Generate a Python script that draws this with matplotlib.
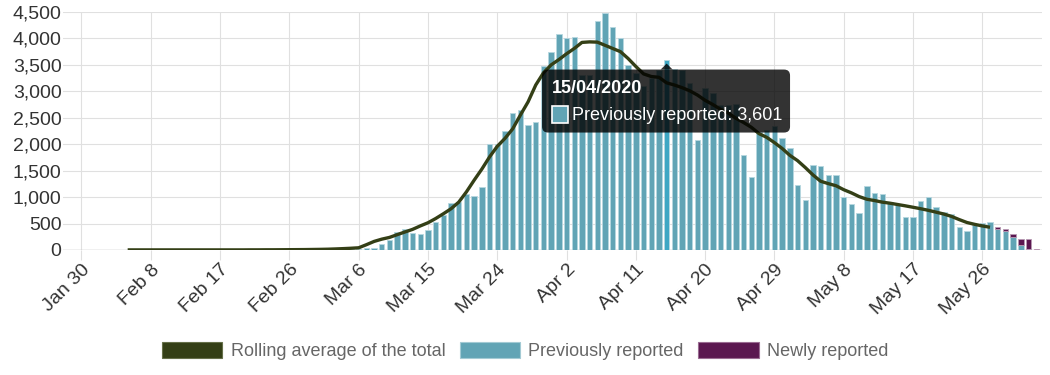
import numpy as np
import pandas as pd
import matplotlib
matplotlib.use("Agg")
import matplotlib.pyplot as plt
import matplotlib.dates as mdates
import matplotlib.transforms as mtransforms
from matplotlib.patches import Patch, FancyBboxPatch, Polygon, Rectangle

plt.rcParams["font.family"] = ["Liberation Sans", "DejaVu Sans"]

# daily deaths by date of death
bar_dates = pd.date_range("2020-03-01", "2020-06-02")
previously_reported = [
    # March
    3, 5, 8, 12, 18, 22, 35, 38, 107, 190, 335, 398, 328, 297, 379, 531,
    663, 890, 905, 1055, 1023, 1195, 2009, 2005, 2255, 2590, 2653, 2363,
    2426, 3487, 3752,
    # April
    4087, 4011, 4036, 3316, 3300, 4327, 4472, 4220, 4005, 3493, 3350, 3100,
    3250, 3411, 3601, 3430, 3411, 3150, 2071, 3064, 2970, 2748, 2748, 2767,
    1800, 1389, 2230, 2274, 2337, 2116,
    # May
    1935, 1230, 948, 1605, 1582, 1421, 1427, 1010, 872, 707, 1213, 1080,
    1061, 900, 875, 619, 619, 929, 1010, 808, 726, 682, 442, 366, 474, 518,
    524, 404, 360, 240, 95,
    # June
    10, 0,
]
newly_reported = [0] * 88 + [26, 32, 57, 113, 192, 19]

avg_dates = pd.date_range("2020-02-05", "2020-05-27")
rolling_average = [
    # February
    2, 2, 2, 2, 2, 2, 2, 2, 2, 2, 2, 2, 2, 2, 2, 2, 3, 3, 4, 4, 5, 6, 7, 8, 10,
    # March
    12, 15, 20, 26, 33, 42, 100, 162, 205, 238, 290, 340, 390, 455, 515, 595,
    685, 780, 905, 1100, 1320, 1530, 1760, 1960, 2110, 2290, 2550, 2800,
    3120, 3350, 3500,
    # April
    3600, 3710, 3810, 3925, 3935, 3930, 3870, 3810, 3750, 3620, 3470, 3330,
    3280, 3265, 3160, 3120, 3070, 3010, 2930, 2830, 2750, 2660, 2590, 2490,
    2410, 2320, 2200, 2130, 2030, 1920,
    # May
    1790, 1690, 1560, 1420, 1300, 1255, 1215, 1140, 1080, 1010, 960, 935,
    905, 885, 860, 835, 808, 780, 750, 715, 680, 635, 575, 520, 485, 455, 430,
]

tick_dates = pd.date_range("2020-01-30", periods=14, freq="9D")
y_ticks = list(range(0, 4501, 500))
hover_date = pd.Timestamp("2020-04-15")

TEAL = "#61a4b5"
TEAL_HOVER = "#3ea7c4"
PURPLE = "#5b1750"
OLIVE = "#343f16"
GRID = "#e0e0e0"

W, H = 1050, 375
fig = plt.figure(figsize=(W / 100, H / 100), dpi=100)
ax = fig.add_axes([63 / W, 125 / H, (1042 - 63) / W, (250 - 12) / H])

x_bars = mdates.date2num(bar_dates)
prev = np.array(previously_reported)
new = np.array(newly_reported)

has_prev = prev > 0
bar_colors = np.array([TEAL_HOVER if d == hover_date else TEAL for d in bar_dates])
ax.bar(x_bars[has_prev], prev[has_prev], width=0.7, color=bar_colors[has_prev],
       edgecolor="#b7d7e0", linewidth=0.6, zorder=2)
has_new = new > 0
ax.bar(x_bars[has_new], new[has_new], bottom=prev[has_new], width=0.7,
       color=PURPLE, edgecolor="#b99ab4", linewidth=0.6, zorder=2)

ax.plot(mdates.date2num(avg_dates), rolling_average, color=OLIVE, lw=2.4,
        solid_joinstyle="round", solid_capstyle="butt", zorder=3)

start = mdates.date2num(pd.Timestamp("2020-01-30"))
ax.set_xlim(start - 2.4, start + 124.75)
ax.set_ylim(0, 4500)

ax.set_yticks(y_ticks)
ax.set_yticklabels([f"{v:,}" for v in y_ticks])
ax.set_xticks(mdates.date2num(tick_dates))
ax.set_xticklabels([f"{d:%b} {d.day}" for d in tick_dates], rotation=45,
                   ha="right", rotation_mode="anchor")

ax.tick_params(axis="y", length=0, pad=1, labelsize=14, labelcolor="#333333")
ax.tick_params(axis="x", length=7, width=0.8, color=GRID, pad=1,
               labelsize=14, labelcolor="#333333")
ax.grid(color=GRID, linewidth=0.8)
ax.set_axisbelow(True)
ax.axhline(0, color="#bdbdbd", linewidth=1, zorder=1.5)
for spine in ax.spines.values():
    spine.set_visible(False)

handles = [
    Patch(facecolor=OLIVE, edgecolor="#66704a", linewidth=0.8),
    Patch(facecolor=TEAL, edgecolor="#a3cad4", linewidth=0.8),
    Patch(facecolor=PURPLE, edgecolor="#9a6c92", linewidth=0.8),
]
labels = ["Rolling average of the total", "Previously reported", "Newly reported"]
fig.legend(handles, labels, loc="center", bbox_to_anchor=(0.5, 1 - 351 / H),
           ncol=3, frameon=False, fontsize=13, handlelength=3.35,
           handleheight=1.0, handletextpad=0.45, columnspacing=0.8,
           labelcolor="#666666")

# hover tooltip on 15 April
idx = list(bar_dates).index(hover_date)
bx, by = ax.transData.transform((x_bars[idx], prev[idx]))
px = mtransforms.IdentityTransform()

box = FancyBboxPatch((bx - 124.6, by - 73), 248, 63,
                     boxstyle="round,pad=0,rounding_size=6", transform=px,
                     facecolor="black", edgecolor="none", alpha=0.8, zorder=10)
fig.add_artist(box)
caret = Polygon([(bx - 6, by - 10), (bx + 6, by - 10), (bx, by - 4)],
                closed=True, transform=px, facecolor="black", edgecolor="none",
                alpha=0.8, zorder=10)
fig.add_artist(caret)
fig.text(bx - 115, by - 33.5, f"{hover_date:%d/%m/%Y}", transform=px,
         color="white", fontsize=13, fontweight="bold", va="baseline", zorder=11)
swatch = Rectangle((bx - 115, by - 63.3), 16.5, 16.5, transform=px,
                   facecolor=TEAL, edgecolor="white", linewidth=1.2, zorder=11)
fig.add_artist(swatch)
fig.text(bx - 95, by - 60, f"Previously reported: {prev[idx]:,}", transform=px,
         color="white", fontsize=13, va="baseline", zorder=11)

fig.savefig("out.png", dpi=100)
